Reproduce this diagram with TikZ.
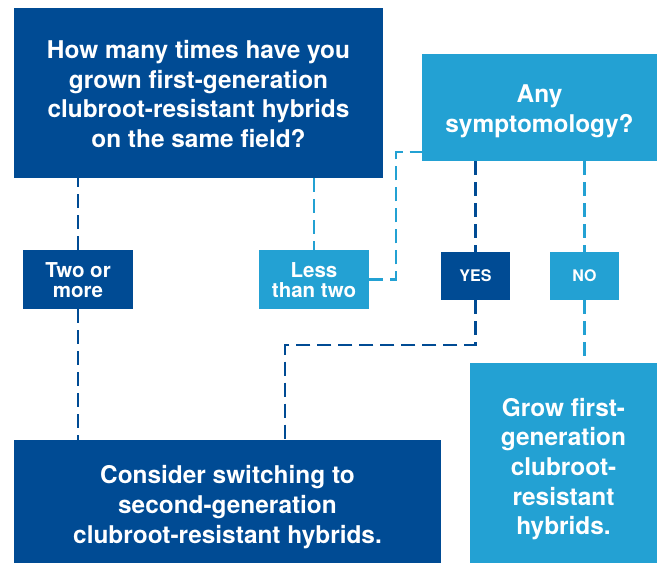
\documentclass[tikz,border=0pt]{standalone}
\usepackage{fontspec}
\setmainfont{TeX Gyre Heros}
\definecolor{navy}{HTML}{004B94}
\definecolor{sky}{HTML}{23A1D3}
\tikzset{
  panel/.style={rectangle, inner sep=0pt},
  darkbox/.style={panel, fill=navy},
  lightbox/.style={panel, fill=sky},
  words/.style={inner sep=0pt, align=center, text=white,
    font=\bfseries\fontsize{24.4}{29.6}\selectfont},
  tag/.style={words, font=\bfseries\fontsize{20.5}{20}\selectfont},
  smalltag/.style={words, font=\bfseries\fontsize{16}{18}\selectfont},
  link/.style={dash pattern=on 14pt off 7pt, line width=2.2pt},
  darklink/.style={link, draw=navy},
  lightlink/.style={link, draw=sky},
}
\begin{document}
\begin{tikzpicture}[x=1pt, y=-1pt]
  \useasboundingbox[fill=white] (0,0) rectangle (658,565);

  % question boxes
  \node[darkbox, minimum width=369pt, minimum height=170pt] (fields) at (198.5,93) {};
  \node[words, yshift=-1pt] (fieldstext) at (fields.center)
    {How many times have you\\grown first-generation\\clubroot-resistant hybrids\\on the same field?};
  \node[lightbox, minimum width=235pt, minimum height=107pt] (symptoms) at (539.5,107.5) {};
  \node[words, yshift=-4pt] (symptomstext) at (symptoms.center) {Any\\symptomology?};

  % answer tags
  \node[darkbox, minimum width=110pt, minimum height=59pt] (twoplus) at (78,279.5) {};
  \node[tag, yshift=-1pt] (twoplustext) at (twoplus.center) {Two or\\more};
  \node[lightbox, minimum width=110pt, minimum height=59pt] (lesstwo) at (314,279.5) {};
  \node[tag, yshift=-1pt] (lesstwotext) at (lesstwo.center) {Less\\than two};
  \node[darkbox, minimum width=69pt, minimum height=48pt] (yes) at (475.5,276) {};
  \node[smalltag] (yestext) at (yes.center) {YES};
  \node[lightbox, minimum width=69pt, minimum height=48pt] (no) at (584.5,276) {};
  \node[smalltag] (notext) at (no.center) {NO};

  % outcomes
  \node[darkbox, minimum width=427pt, minimum height=123pt] (switch) at (227.5,501.5) {};
  \node[words, yshift=-5.5pt] (switchtext) at (switch.center)
    {Consider switching to\\second-generation\\clubroot-resistant hybrids.};
  \node[lightbox, minimum width=187pt, minimum height=200pt] (grow) at (563.5,463) {};
  \node[words, yshift=-6pt] (growtext) at (grow.center)
    {Grow first-\\generation\\clubroot-\\resistant\\hybrids.};

  % connectors
  \coordinate (bend) at (396,152);
  \coordinate (drop) at (285,345);

  \draw[darklink] (twoplus.north) -- (twoplus.north |- fields.south);
  \draw[darklink] (twoplus.south) -- (twoplus.south |- switch.north);

  \draw[lightlink] (lesstwo.north |- fields.south) -- (lesstwo.north);
  \draw[lightlink] (lesstwo.east) -| (bend) -- (bend -| symptoms.west);

  \draw[darklink] (yes.north |- symptoms.south) -- (yes.north);
  \draw[darklink] (yes.south) |- (drop) -- (drop |- switch.north);

  \draw[lightlink] (no.north |- symptoms.south) -- (no.north);
  \draw[lightlink] (no.south) -- (no.south |- grow.north);
\end{tikzpicture}
\end{document}
